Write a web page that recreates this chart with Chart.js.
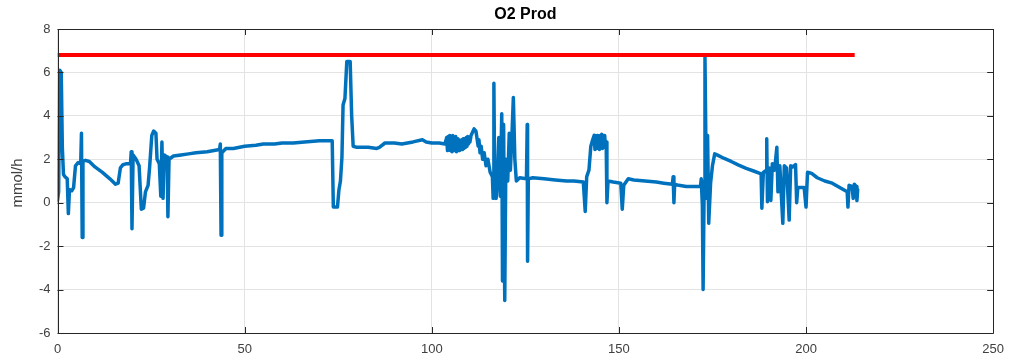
<!DOCTYPE html>
<html>
<head>
<meta charset="utf-8">
<script src="https://cdn.jsdelivr.net/npm/chart.js@4"></script>
<style>
html,body{margin:0;padding:0;background:#fff;}
#wrap{width:1013px;height:364px;}
</style>
</head>
<body>
<div id="wrap"><canvas id="c" width="1013" height="364"></canvas></div>
<script>
const titleText = "O2 Prod";
const yLabel = "mmol/h";
const xTicks = [0, 50, 100, 150, 200, 250];
const yTicks = [-6, -4, -2, 0, 2, 4, 6, 8];

const prodX = [
0,0.3,0.6,1.0,1.3,1.6,2.0,2.6,2.9,3.2,3.8,4.3,4.8,5.5,6.2,6.4,6.6,6.8,7.5,8.5,10,12,14,15.5,16.2,16.8,17.5,18.5,19.5,19.7,19.9,20.2,21,21.8,22.4,23.0,23.5,24.2,24.6,25.2,25.7,26.3,26.6,27.2,27.6,27.9,28.2,28.5,29.3,29.5,29.8,31,33,35,37,40,43.3,43.5,43.7,43.9,45,47,50,53,55,58,60,63,66,70,73.4,73.7,74.8,75.2,75.6,76.0,76.3,76.8,77.3,78.2,78.6,79.0,80,83,85.3,86,87.5,90,92,95,97.5,98.5,100,102,103.5,
104.0,104.2,104.4,104.6,104.8,105.0,105.2,105.4,105.6,105.8,106.0,106.2,106.4,106.6,106.8,107.0,107.2,107.4,107.6,107.8,108.0,108.2,108.4,108.6,108.8,109.0,109.2,109.4,109.6,109.8,110.0,110.2,110.5,111.3,111.8,112.4,112.6,112.9,113.2,113.6,114,114.5,115,115.6,116.2,116.4,116.6,116.8,117.2,117.6,117.9,118.3,118.7,118.9,119.2,119.5,119.8,120.3,120.7,121.0,121.4,121.8,122.2,122.6,123.5,125.3,125.5,125.6,125.8,127,130,133,136,138,140.5,141.0,141.4,142.0,142.5,143.0,
143.4,143.6,143.8,144.0,144.2,144.4,144.6,144.8,145.0,145.2,145.4,145.6,145.8,146.0,146.2,146.4,146.6,146.8,147.1,148.5,150.5,150.9,151.3,152.5,154,157,160,162,164.3,164.5,164.7,164.9,166,168,170,171.8,172.0,172.3,172.5,172.8,173.0,173.4,173.7,174.0,174.5,175.0,175.6,
176.5,178,180,182,184,186,188,
188.2,188.6,189.4,189.5,189.7,190.2,190.6,191,191.6,192.2,192.5,193.0,193.8,194.2,194.8,195.5,195.9,196.5,197.2,197.5,197.8,199.5,200,200.4,201.5,203,205,207,209,211,211.2,211.5,212.3,212.6,212.9,213.4,213.6,213.8
];
const prodY = [
0.1,0.5,6.1,6.0,2.5,1.3,1.2,1.1,-0.5,0.6,0.55,0.7,1.7,1.85,1.8,3.2,-1.6,1.9,1.95,1.9,1.65,1.4,1.1,0.85,0.9,1.6,1.75,1.8,1.8,2.35,-1.2,2.2,2.0,1.7,-0.3,-0.25,0.5,0.8,1.6,3.1,3.3,3.2,2.0,1.8,0.3,2.8,0.2,2.2,2.1,-0.65,2.0,2.15,2.2,2.25,2.3,2.35,2.45,2.7,-1.5,2.3,2.5,2.5,2.6,2.65,2.7,2.7,2.75,2.75,2.8,2.85,2.85,-0.2,-0.2,0.6,1.0,2.1,4.5,4.8,6.5,6.5,4.0,2.6,2.55,2.55,2.5,2.55,2.75,2.75,2.7,2.8,2.9,2.8,2.75,2.75,2.7,
3.0,2.4,3.05,2.45,3.1,2.4,3.0,2.35,3.1,2.4,3.0,2.4,3.05,2.35,2.95,2.4,2.9,2.4,2.85,2.45,2.9,2.45,2.95,2.5,2.95,2.55,3.0,2.6,3.05,2.7,3.0,2.8,3.1,3.4,3.3,2.6,2.9,2.3,2.6,2.0,2.3,1.7,2.0,1.4,1.2,0.2,5.5,1.0,0.2,1.5,3.0,0.3,4.1,-3.6,3.6,-4.5,2.0,1.0,3.2,1.5,3.0,4.85,2.0,1.0,1.15,1.1,3.6,-2.7,1.1,1.15,1.1,1.05,1.0,1.0,0.95,-0.4,1.2,1.5,2.6,2.9,
3.1,2.45,3.0,2.5,3.1,2.5,3.05,2.45,3.1,2.55,3.15,2.5,3.1,2.55,3.1,2.6,2.8,0.0,1.0,0.95,0.9,-0.3,0.8,1.1,1.05,1.0,0.95,0.9,0.85,1.2,0.0,0.85,0.8,0.75,0.75,0.75,1.1,-0.1,-4.0,1.0,6.7,0.2,3.1,-0.95,0.9,1.7,2.25,
2.18,2.05,1.9,1.73,1.58,1.46,1.33,
-0.25,1.4,1.5,2.95,0.05,1.6,0.1,1.8,1.5,2.55,0.5,1.7,-0.95,1.7,1.6,-0.8,1.7,1.65,1.75,0.0,0.7,0.7,-0.2,1.4,1.35,1.15,1.0,0.9,0.7,0.5,-0.2,0.8,0.75,0.2,0.85,0.75,0.1,0.6
];
const limitX = [0, 213];
const limitY = [6.8, 6.8];

const L = 57.5, R = 999, T = 29, B = 333;

const framePlugin = {
  id: 'frame',
  afterDatasetsDraw(chart) {
    const ctx = chart.ctx, a = chart.chartArea;
    const xs = chart.scales.x, ys = chart.scales.y;
    ctx.save();
    ctx.strokeStyle = '#262626';
    ctx.lineWidth = 1;
    ctx.beginPath();
    ctx.rect(Math.round(a.left)+0.5, Math.round(a.top)+0.5, Math.round(a.right-a.left)-1, Math.round(a.bottom-a.top));
    ctx.stroke();
    const tl = 6;
    ctx.beginPath();
    xTicks.forEach(v => {
      const px = Math.round(xs.getPixelForValue(v)) + 0.5;
      ctx.moveTo(px, a.bottom); ctx.lineTo(px, a.bottom - tl);
      ctx.moveTo(px, a.top); ctx.lineTo(px, a.top + tl);
    });
    yTicks.forEach(v => {
      const py = Math.round(ys.getPixelForValue(v)) + 0.5;
      ctx.moveTo(a.left, py); ctx.lineTo(a.left + tl, py);
      ctx.moveTo(a.right, py); ctx.lineTo(a.right - tl, py);
    });
    ctx.stroke();
    ctx.fillStyle = '#000';
    ctx.font = 'bold 16px "Liberation Sans", Arial, sans-serif';
    ctx.textAlign = 'center';
    ctx.textBaseline = 'middle';
    ctx.fillText(titleText, (a.left + a.right) / 2, 15);
    ctx.fillStyle = '#404040';
    ctx.font = '15px "Liberation Sans", Arial, sans-serif';
    ctx.translate(18, (a.top + a.bottom) / 2 + 2);
    ctx.rotate(-Math.PI / 2);
    ctx.fillText(yLabel, 0, 0);
    ctx.restore();
  }
};

new Chart(document.getElementById('c'), {
  type: 'scatter',
  data: {
    datasets: [
      {
        label: 'limit',
        data: limitX.map((x, i) => ({x, y: limitY[i]})),
        showLine: true, borderColor: '#ff0000', borderWidth: 4,
        pointRadius: 0, tension: 0
      },
      {
        label: 'O2 Prod',
        data: prodX.map((x, i) => ({x, y: prodY[i]})),
        showLine: true, borderColor: '#0072BD', borderWidth: 3.5,
        pointRadius: 0, tension: 0, borderJoinStyle: 'round', borderCapStyle: 'round'
      }
    ]
  },
  options: {
    responsive: false,
    animation: false,
    devicePixelRatio: 1,
    layout: { padding: { left: 0, right: 1013 - R, top: T, bottom: 0 } },
    plugins: { legend: { display: false }, tooltip: { enabled: false }, title: { display: false } },
    scales: {
      x: {
        type: 'linear', min: 0, max: 250,
        afterBuildTicks: s => { s.ticks = xTicks.map(v => ({value: v})); },
        afterFit: s => { s.height = 364 - B; },
        grid: { color: '#e3e3e3', drawTicks: false },
        border: { display: false },
        ticks: { padding: 9, color: '#404040', font: { family: '"Liberation Sans", Arial, sans-serif', size: 13 }, maxRotation: 0 }
      },
      y: {
        type: 'linear', min: -6, max: 8,
        afterBuildTicks: s => { s.ticks = yTicks.map(v => ({value: v})); },
        afterFit: s => { s.width = L; },
        grid: { color: '#e3e3e3', drawTicks: false },
        border: { display: false },
        ticks: { padding: 7, color: '#404040', font: { family: '"Liberation Sans", Arial, sans-serif', size: 13 } }
      }
    }
  },
  plugins: [framePlugin]
});
</script>
</body>
</html>
